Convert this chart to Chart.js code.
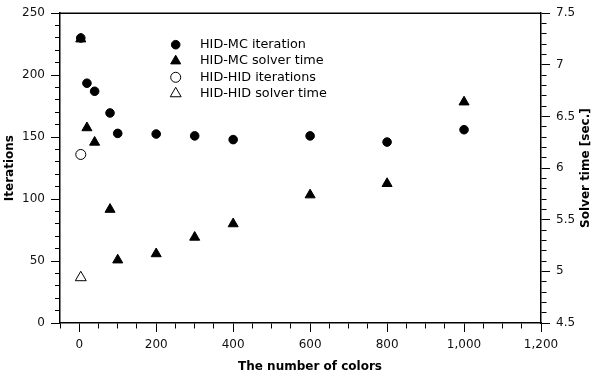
<!DOCTYPE html>
<html>
<head>
<meta charset="utf-8">
<script src="https://cdn.jsdelivr.net/npm/chart.js@4.4.1/dist/chart.umd.min.js"></script>
<style>
  html, body { margin: 0; padding: 0; background: #fff; }
  #wrap { width: 593px; height: 378px; position: relative; }
</style>
</head>
<body>
<div id="wrap"><canvas id="chart-scatter"></canvas></div>
<script>
// values
var colorCounts = [4, 20, 40, 80, 100, 200, 300, 400, 600, 800, 1000];
var mcIterations = [230, 193.5, 187, 169.5, 153, 152.5, 151, 148, 151, 146, 156];
var mcSolverTime = [7.25, 6.39, 6.25, 5.6, 5.11, 5.17, 5.33, 5.46, 5.74, 5.85, 6.64];
var hidColorCounts = [4];
var hidIterations = [136];
var hidSolverTime = [4.94];

var seriesLabels = ["HID-MC iteration", "HID-MC solver time", "HID-HID iterations", "HID-HID solver time"];
var xTitle = "The number of colors";
var yTitle = "Iterations";
var y1Title = "Solver time [sec.]";

var FONT = "DejaVu Sans";
var tickFont = { family: FONT, size: 12 };

function toPoints(xs, ys) {
  return xs.map(function (x, i) { return { x: x, y: ys[i] }; });
}

function isMultiple(v, step) {
  var q = v / step;
  return Math.abs(q - Math.round(q)) < 1e-6;
}

// major ticks full length, minor ticks only the half next to the axis
function axisGrid(majorStep, side) {
  return {
    display: true,
    drawOnChartArea: false,
    drawTicks: true,
    tickLength: 9,
    tickColor: "#000",
    tickWidth: 1,
    tickBorderDash: function (c) {
      if (!c.tick) return [];
      return isMultiple(c.tick.value, majorStep) ? [] : [5, 100];
    },
    tickBorderDashOffset: function (c) {
      if (!c.tick || isMultiple(c.tick.value, majorStep)) return 0;
      return side === "left" ? -4 : 0;
    },
  };
}

function drawMarker(ctx, style, filled, r, x, y) {
  ctx.beginPath();
  if (style === "circle") {
    ctx.arc(x, y, r, 0, Math.PI * 2);
  } else {
    var rad = 0;
    ctx.moveTo(x + Math.sin(rad) * r, y - Math.cos(rad) * r);
    rad += Math.PI * 2 / 3;
    ctx.lineTo(x + Math.sin(rad) * r, y - Math.cos(rad) * r);
    rad += Math.PI * 2 / 3;
    ctx.lineTo(x + Math.sin(rad) * r, y - Math.cos(rad) * r);
  }
  ctx.closePath();
  ctx.fillStyle = filled ? "#000" : "#fff";
  ctx.fill();
  ctx.lineWidth = 1;
  ctx.strokeStyle = "#000";
  ctx.stroke();
}

var decorPlugin = {
  id: "decor",
  afterDraw: function (chart) {
    var ctx = chart.ctx, a = chart.chartArea;
    ctx.save();

    // top edge of the frame
    ctx.strokeStyle = "#000";
    ctx.lineWidth = 1.5;
    ctx.beginPath();
    ctx.moveTo(a.left, a.top);
    ctx.lineTo(a.right, a.top);
    ctx.stroke();

    // bottom title
    ctx.fillStyle = "#000";
    ctx.font = "bold 12px '" + FONT + "'";
    ctx.textAlign = "center";
    ctx.textBaseline = "middle";
    ctx.fillText(xTitle, (a.left + a.right) / 2 + 9.5, a.bottom + 43.7);

    // right title, reading bottom to top
    ctx.save();
    ctx.translate(a.right + 45, (a.top + a.bottom) / 2);
    ctx.rotate(-Math.PI / 2);
    ctx.fillText(y1Title, 0, 0);
    ctx.restore();

    // legend inside the plot
    ctx.font = "12.8px '" + FONT + "'";
    ctx.textAlign = "left";
    chart.data.datasets.forEach(function (ds, i) {
      var y = a.top + 31.5 + i * 16.3;
      var filled = ds.backgroundColor === "#000";
      drawMarker(ctx, ds.pointStyle, filled, ds.pointRadius, a.left + 115.7, y);
      ctx.fillStyle = "#000";
      ctx.fillText(ds.label, a.left + 140, y);
    });

    ctx.restore();
  },
};

var ctx = document.getElementById("chart-scatter").getContext("2d");

new Chart(ctx, {
  type: "scatter",
  data: {
    datasets: [
      {
        label: seriesLabels[0],
        data: toPoints(colorCounts, mcIterations),
        yAxisID: "y",
        pointStyle: "circle",
        pointRadius: 4.3,
        backgroundColor: "#000",
        borderColor: "#000",
        borderWidth: 1,
      },
      {
        label: seriesLabels[1],
        data: toPoints(colorCounts, mcSolverTime),
        yAxisID: "y1",
        pointStyle: "triangle",
        pointRadius: 5.8,
        backgroundColor: "#000",
        borderColor: "#000",
        borderWidth: 1,
      },
      {
        label: seriesLabels[2],
        data: toPoints(hidColorCounts, hidIterations),
        yAxisID: "y",
        pointStyle: "circle",
        pointRadius: 5,
        backgroundColor: "#fff",
        borderColor: "#000",
        borderWidth: 1,
      },
      {
        label: seriesLabels[3],
        data: toPoints(hidColorCounts, hidSolverTime),
        yAxisID: "y1",
        pointStyle: "triangle",
        pointRadius: 6.3,
        backgroundColor: "#fff",
        borderColor: "#000",
        borderWidth: 1,
      },
    ],
  },
  options: {
    responsive: true,
    maintainAspectRatio: false,
    animation: false,
    layout: { padding: { top: 12, left: 0, right: 0, bottom: 0 } },
    plugins: {
      legend: { display: false },
      tooltip: { enabled: false },
    },
    scales: {
      x: {
        type: "linear",
        position: "bottom",
        min: -50,
        max: 1200,
        afterFit: function (s) { s.height = 55; },
        border: { display: true, color: "#000", width: 1.5 },
        grid: axisGrid(200, "bottom"),
        title: { display: false },
        ticks: {
          stepSize: 50,
          autoSkip: false,
          maxRotation: 0,
          padding: 6,
          color: "#111",
          font: tickFont,
          callback: function (v) { return isMultiple(v, 200) ? v.toLocaleString("en-US") : ""; },
        },
      },
      y: {
        type: "linear",
        position: "left",
        min: 0,
        max: 250,
        afterFit: function (s) { s.width = 60; },
        border: { display: true, color: "#000", width: 1.5 },
        grid: axisGrid(50, "left"),
        title: {
          display: true,
          text: yTitle,
          color: "#000",
          padding: { top: 3, bottom: 0 },
          font: { family: FONT, size: 12, weight: "bold" },
        },
        ticks: {
          stepSize: 10,
          autoSkip: false,
          padding: 6,
          color: "#111",
          font: tickFont,
          callback: function (v) { return isMultiple(v, 50) ? String(v) : ""; },
        },
      },
      y1: {
        type: "linear",
        position: "right",
        min: 4.5,
        max: 7.5,
        afterFit: function (s) { s.width = 52; },
        border: { display: true, color: "#000", width: 1.5 },
        grid: axisGrid(0.5, "right"),
        title: { display: false },
        ticks: {
          stepSize: 0.1,
          autoSkip: false,
          padding: 6,
          color: "#111",
          font: tickFont,
          callback: function (v) { return isMultiple(v, 0.5) ? String(Math.round(v * 10) / 10) : ""; },
        },
      },
    },
  },
  plugins: [decorPlugin],
});
</script>
</body>
</html>
